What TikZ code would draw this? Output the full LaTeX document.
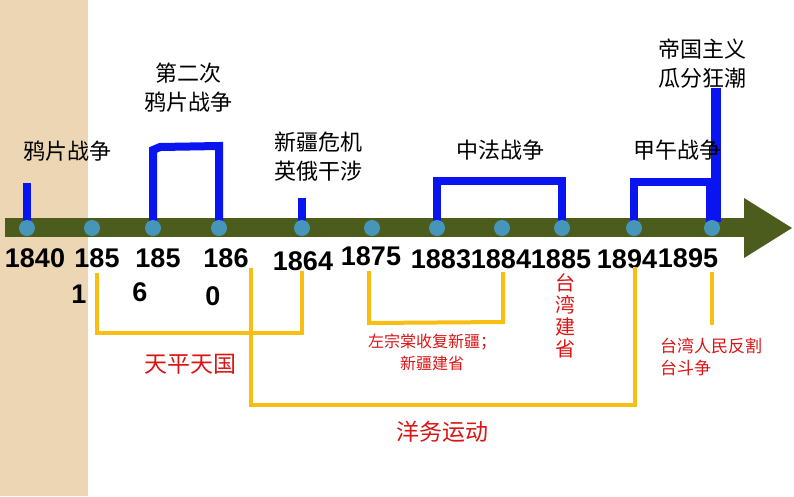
\documentclass[tikz,border=0pt]{standalone}
\usepackage{fontspec}
\newfontfamily\cjk{Noto Sans CJK SC}
\newfontfamily\yr{Liberation Sans}
\definecolor{beige}{RGB}{236,214,180}
\definecolor{olive}{RGB}{76,92,28}
\definecolor{dotc}{RGB}{70,150,185}
\definecolor{bl}{RGB}{10,20,240}
\definecolor{yel}{RGB}{248,190,20}
\definecolor{rd}{RGB}{220,20,20}
\begin{document}
\begin{tikzpicture}[x=1pt,y=-1pt,
  lab/.style={font=\cjk\fontsize{22}{29}\selectfont,align=center,inner sep=0},
  rlab/.style={font=\cjk\fontsize{17}{21}\selectfont,text=rd,align=center,inner sep=0},
  year/.style={font=\yr\bfseries\fontsize{27}{29}\selectfont,inner sep=0},
  blu/.style={bl,line width=8pt},
  yl/.style={yel,line width=4pt}]
\useasboundingbox (0,0) rectangle (794,496);
\fill[beige] (0,0) rectangle (88,496);
\fill[olive] (5,218) rectangle (748,237);
\fill[olive] (744,198) -- (792,228) -- (744,258) -- cycle;
% blue bars
\draw[blu] (27,183) -- (27,222);
\draw[blu] (153,222) -- (153,150) -- (160,147) -- (219,146) -- (219,222);
\draw[blu] (302,198) -- (302,222);
\draw[blu] (437,222) -- (437,181) -- (562,181) -- (562,222);
\draw[blu] (634,222) -- (634,182) -- (710,182) -- (710,222);
\draw[bl,line width=10pt] (716,88) -- (716,222);
% dots
\foreach \x/\n in {27/a,92/b,153/c,219/d,302/e,372/f,437/g,502/h,562/i,634/j,712/k}
  \fill[dotc] (\x,228) circle (8) coordinate (d\n);
% top labels
\node[lab] (l1) at (67,151) {鸦片战争};
\node[lab] (l2) at (188,88) {第二次\\鸦片战争};
\node[lab] (l3) at (318,157) {新疆危机\\英俄干涉};
\node[lab] (l4) at (500,150) {中法战争};
\node[lab] (l5) at (677,150) {甲午战争};
\node[lab] (l6) at (702,64) {帝国主义\\瓜分狂潮};
% years
\node[year] (y1) at (35,258) {1840};
\node[year] (y2) at (97,258) {185};
\node[year] (y2b) at (79,294) {1};
\node[year] (y3) at (158,258) {185};
\node[year] (y3b) at (140,292) {6};
\node[year] (y4) at (226,258) {186};
\node[year] (y4b) at (213,296) {0};
\node[year] (y5) at (303,261) {1864};
\node[year] (y6) at (371,256) {1875};
\node[year] (y7) at (441,259) {1883};
\node[year] (y8) at (501,259) {1884};
\node[year] (y9) at (561,259) {1885};
\node[year] (y10) at (627,259) {1894};
\node[year] (y11) at (688,258) {1895};
% yellow brackets
\draw[yl] (97,273) -- (97,333) -- (302,333) -- (302,271);
\draw[yl] (251,268) -- (251,405) -- (635,405) -- (635,267);
\draw[yl] (369,271) -- (369,323) -- (503,322) -- (503,272);
\draw[yl] (712,272) -- (712,325);
% red labels
\node[rlab,font=\cjk\fontsize{23}{26}\selectfont] (r1) at (190,364) {天平天国};
\node[rlab,font=\cjk\fontsize{23}{26}\selectfont] (r2) at (442,432) {洋务运动};
\node[rlab,font=\cjk\fontsize{16}{22}\selectfont] (r3) at (432,352) {左宗棠收复新疆；\\新疆建省};
\node[rlab,font=\cjk\fontsize{20}{22}\selectfont] (r4) at (565,316) {台\\湾\\建\\省};
\node[rlab,font=\cjk\fontsize{17}{22}\selectfont,align=left] (r5) at (711,357) {台湾人民反割\\台斗争};
\end{tikzpicture}
\end{document}
